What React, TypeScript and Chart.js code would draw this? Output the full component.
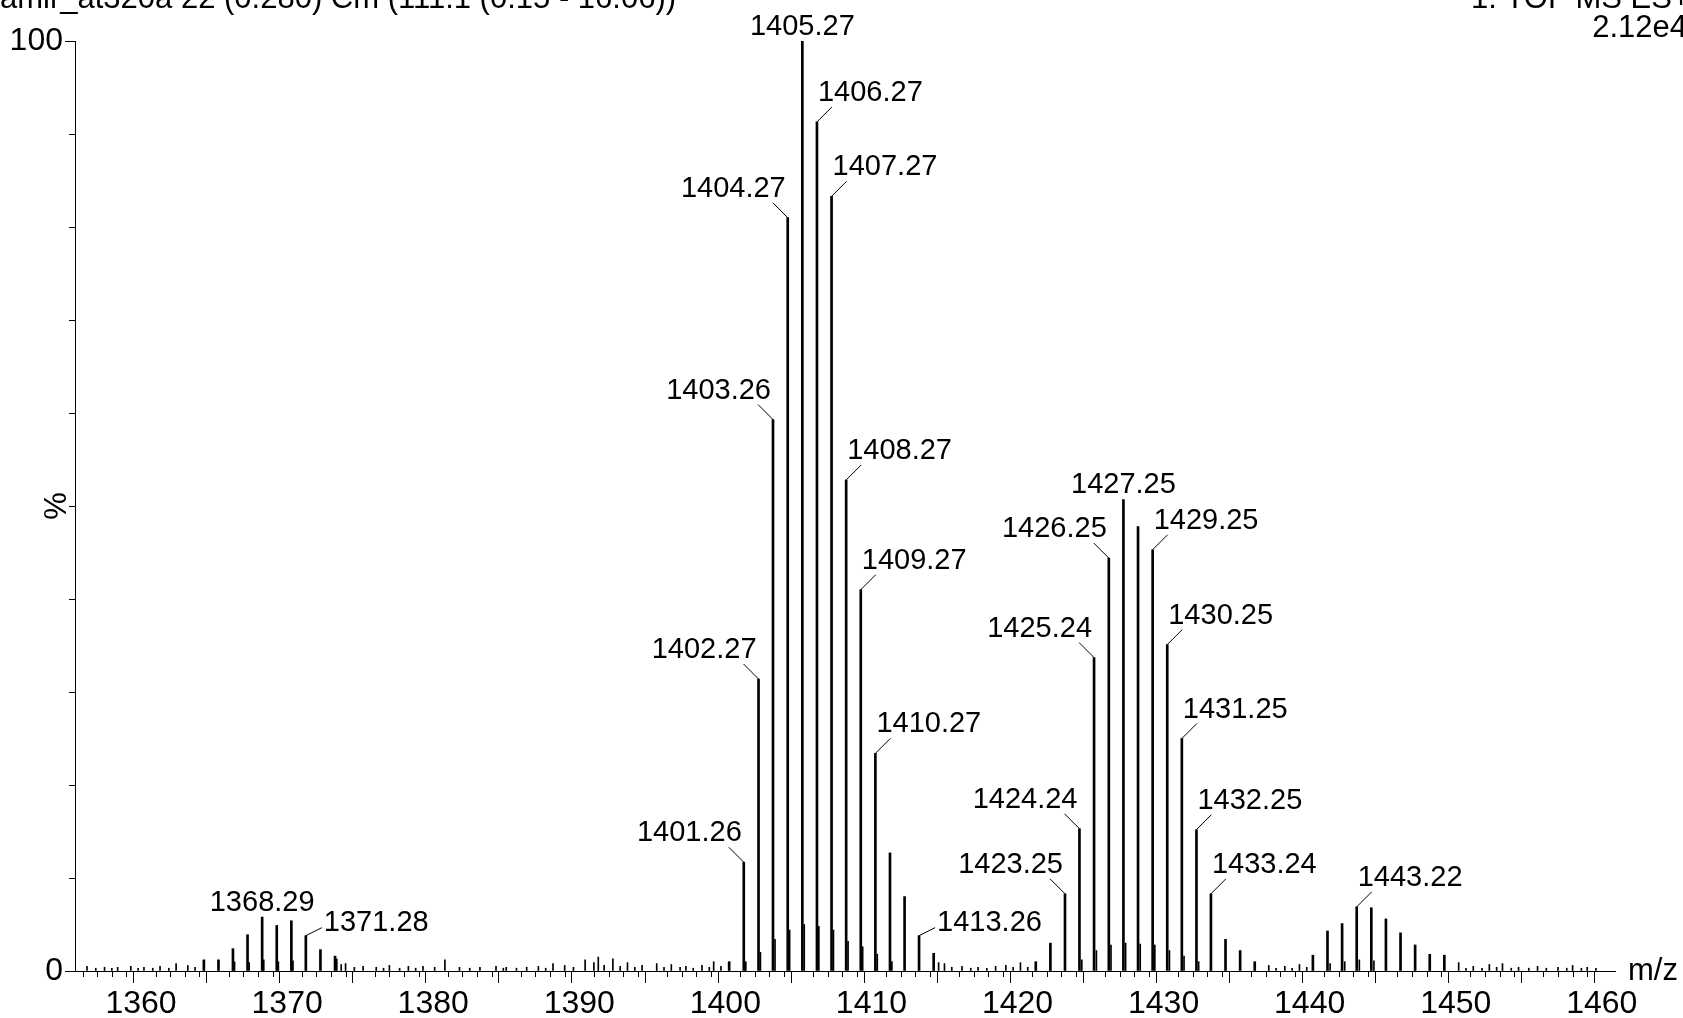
import React, { useEffect, useRef } from 'react';
import { Chart, registerables } from 'chart.js';

Chart.register(...registerables);

// ---- data ----
const peakMz = [
  1364.30, 1365.30, 1366.29, 1367.29, 1368.29, 1369.29, 1370.29, 1371.28, 1372.28, 1373.28,
  1400.26, 1401.26, 1402.27, 1403.26, 1404.27, 1405.27, 1406.27, 1407.27, 1408.27, 1409.27,
  1410.27, 1411.27, 1412.27, 1413.26, 1414.26,
  1421.25, 1422.25, 1423.25, 1424.24, 1425.24, 1426.25, 1427.25, 1428.25, 1429.25, 1430.25,
  1431.25, 1432.25, 1433.24, 1434.24, 1435.24, 1436.24,
  1440.22, 1441.22, 1442.22, 1443.22, 1444.22, 1445.22, 1446.22, 1447.22, 1448.22, 1449.22,
];
const peakPct = [
  1.2, 1.2, 2.4, 3.9, 5.8, 4.9, 5.4, 3.8, 2.3, 1.6,
  1.0, 11.7, 31.4, 59.3, 81.0, 100, 91.3, 83.3, 52.8, 41.0,
  23.4, 12.7, 8.0, 3.8, 1.9,
  1.0, 3.0, 8.3, 15.3, 33.7, 44.4, 50.7, 47.8, 45.3, 35.1,
  25.0, 15.2, 8.3, 3.4, 2.2, 1.0,
  1.7, 4.3, 5.1, 6.9, 6.8, 5.6, 4.1, 2.8, 1.8, 1.7,
];

// small shoulder / tail spikes just after the main isotope peaks
const tailMz = [
  1366.4, 1367.4, 1368.4, 1369.4, 1370.4, 1373.4,
  1401.4, 1402.4, 1403.4, 1404.4, 1405.4, 1406.4, 1407.4, 1408.4, 1409.4, 1410.4, 1411.4,
  1424.4, 1425.4, 1426.4, 1427.4, 1428.4, 1429.4, 1430.4, 1431.4, 1432.4,
  1441.4, 1442.4, 1443.4, 1444.4,
];
const tailPct = [
  1.0, 0.9, 1.2, 1.0, 1.1, 1.3,
  1.0, 2.0, 3.4, 4.4, 5.0, 4.8, 4.4, 3.2, 2.6, 1.8, 1.0,
  1.2, 2.2, 2.8, 3.0, 2.9, 2.8, 2.2, 1.6, 1.0,
  0.8, 1.0, 1.2, 1.1,
];

const noiseMz = [
  1356.3, 1356.9, 1357.5, 1358.0, 1358.4, 1359.3, 1359.8, 1360.2, 1360.8, 1361.3,
  1361.9, 1362.4, 1363.2, 1363.7, 1373.7, 1374.0, 1374.6, 1375.2, 1376.1, 1376.6,
  1377.0, 1377.7, 1378.3, 1378.8, 1379.3, 1380.1, 1380.8, 1381.8, 1382.5, 1383.2,
  1384.3, 1384.8, 1385.0, 1385.7, 1386.4, 1387.2, 1387.7, 1388.2, 1389.0, 1389.6,
  1390.4, 1391.0, 1391.3, 1391.7, 1392.3, 1392.8, 1393.3, 1393.8, 1394.3, 1395.3,
  1395.8, 1396.3, 1396.9, 1397.3, 1397.8, 1398.4, 1398.9, 1399.2, 1399.7, 1414.6,
  1415.0, 1415.5, 1416.2, 1416.8, 1417.3, 1417.9, 1418.5, 1419.2, 1419.7, 1420.2,
  1420.7, 1437.2, 1437.7, 1438.3, 1438.8, 1439.3, 1439.8, 1450.2, 1450.7, 1451.2,
  1451.8, 1452.3, 1452.8, 1453.2, 1453.8, 1454.3, 1455.0, 1455.6, 1456.2, 1457.0,
  1457.6, 1458.0, 1458.6, 1459.0, 1459.6,
];
const noisePct = [
  0.5, 0.3, 0.4, 0.3, 0.4, 0.5, 0.3, 0.4, 0.3, 0.5,
  0.3, 0.8, 0.6, 0.4, 0.7, 0.8, 0.4, 0.5, 0.4, 0.3,
  0.6, 0.3, 0.5, 0.3, 0.5, 0.4, 1.2, 0.4, 0.3, 0.4,
  0.5, 0.3, 0.4, 0.3, 0.4, 0.5, 0.3, 0.8, 0.6, 0.4,
  1.2, 0.9, 1.5, 0.6, 1.3, 0.5, 0.9, 0.4, 0.6, 0.8,
  0.4, 0.7, 0.4, 0.5, 0.3, 0.6, 0.4, 1.0, 0.5, 0.9,
  0.8, 0.4, 0.5, 0.3, 0.4, 0.3, 0.5, 0.6, 0.4, 0.9,
  0.4, 0.6, 0.3, 0.5, 0.3, 0.7, 0.4, 0.9, 0.3, 0.5,
  0.3, 0.7, 0.4, 0.8, 0.3, 0.4, 0.3, 0.5, 0.3, 0.4,
  0.3, 0.6, 0.3, 0.4, 0.3,
];

const labelMz = [
  1368.29, 1371.28, 1401.26, 1402.27, 1403.26, 1404.27, 1405.27, 1406.27, 1407.27, 1408.27,
  1409.27, 1410.27, 1413.26, 1423.25, 1424.24, 1425.24, 1426.25, 1427.25, 1429.25, 1430.25,
  1431.25, 1432.25, 1433.24, 1443.22,
];
const labelSide = [
  'C', 'R2', 'L', 'L', 'L', 'L', 'C', 'R', 'R', 'R',
  'R', 'R', 'R2', 'L', 'L', 'L', 'L', 'C', 'R', 'R',
  'R', 'R', 'R', 'R',
];

const xMin = 1355.98;
const xMax = 1460.4;
const xLabelValues = [1360, 1370, 1380, 1390, 1400, 1410, 1420, 1430, 1440, 1450, 1460];
const yLabelValues = [0, 100];
const headerLeft = 'amir_at320a 22 (0.280) Cm (111:1 (0.15 - 16.06))';
const headerRight1 = '1: TOF MS ES+';
const headerRight2 = '2.12e4';
const xTitle = 'm/z';
const yTitle = '%';

const FONT = '"Liberation Sans", Arial, Helvetica, sans-serif';

const annotatePlugin = {
  id: 'annotate',
  afterDraw(chart: any) {
    const ctx = chart.ctx;
    const xs = chart.scales.x;
    const ys = chart.scales.y;
    const area = chart.chartArea;
    ctx.save();
    ctx.strokeStyle = '#000';
    ctx.fillStyle = '#000';
    ctx.lineWidth = 1;
    // minor x ticks
    ctx.beginPath();
    for (let v = Math.ceil(xMin); v <= Math.floor(xMax); v++) {
      if (v % 5 === 0) continue;
      const px = Math.round(xs.getPixelForValue(v)) + 0.5;
      ctx.moveTo(px, area.bottom);
      ctx.lineTo(px, area.bottom + 6);
    }
    // minor y ticks
    for (let v = 10; v < 100; v += 10) {
      const py = Math.round(ys.getPixelForValue(v)) + 0.5;
      ctx.moveTo(area.left, py);
      ctx.lineTo(area.left - 6, py);
    }
    ctx.stroke();

    // peak labels
    const meta = chart.getDatasetMeta(0);
    ctx.font = `29px ${FONT}`;
    ctx.textBaseline = 'alphabetic';
    labelMz.forEach((mz, i) => {
      const idx = peakMz.indexOf(mz);
      if (idx < 0) return;
      const el = meta.data[idx];
      const x = el.x;
      const y = el.y;
      const text = mz.toFixed(2);
      const side = labelSide[i];
      ctx.beginPath();
      if (side === 'L') {
        ctx.moveTo(x, y);
        ctx.lineTo(x - 15, y - 15);
        ctx.stroke();
        ctx.textAlign = 'right';
        ctx.fillText(text, x - 2, y - 21);
      } else if (side === 'R') {
        ctx.moveTo(x, y);
        ctx.lineTo(x + 15, y - 15);
        ctx.stroke();
        ctx.textAlign = 'left';
        ctx.fillText(text, x + 1, y - 21);
      } else if (side === 'R2') {
        ctx.moveTo(x, y);
        ctx.lineTo(x + 16, y - 8);
        ctx.stroke();
        ctx.textAlign = 'left';
        ctx.fillText(text, x + 18, y - 5);
      } else {
        ctx.textAlign = 'center';
        ctx.fillText(text, x, y - 6);
      }
    });

    // m/z
    ctx.font = `31px ${FONT}`;
    ctx.textAlign = 'left';
    ctx.fillText(xTitle, area.right + 13, area.bottom + 9);

    // headers
    ctx.textAlign = 'left';
    ctx.fillText(headerLeft, 0, 8);
    ctx.textAlign = 'right';
    ctx.fillText(headerRight1, 1690, 8);
    ctx.fillText(headerRight2, 1687, 37);
    ctx.restore();
  },
};

const stick = (mz: number[], pct: number[], w: number) => ({
  data: mz.map((m, i) => ({ x: m, y: pct[i] })),
  backgroundColor: '#000',
  borderWidth: 0,
  barThickness: w,
  grouped: false,
});

export default function App() {
  const ref = useRef<HTMLCanvasElement | null>(null);
  useEffect(() => {
    if (!ref.current) return;
    const chart = new Chart(ref.current, {
      type: 'bar',
      data: {
        datasets: [
          stick(peakMz, peakPct, 2),
          stick(tailMz, tailPct, 1),
          stick(noiseMz, noisePct, 1),
        ] as any,
      },
      options: {
        animation: false,
        responsive: false,
        maintainAspectRatio: false,
        devicePixelRatio: 1,
        layout: { padding: { top: 41, right: 68, left: 0, bottom: 0 } },
        plugins: { legend: { display: false }, tooltip: { enabled: false }, title: { display: false } },
        scales: {
          x: {
            type: 'linear',
            min: xMin,
            max: xMax,
            position: 'bottom',
            afterFit: (s: any) => { s.height = 47; },
            ticks: {
              stepSize: 1,
              autoSkip: false,
              includeBounds: false,
              maxTicksLimit: 500,
              maxRotation: 0,
              minRotation: 0,
              padding: 2,
              color: '#000',
              font: { size: 32, family: FONT },
              callback: (v: any) => (xLabelValues.includes(Number(v)) ? String(v) : ''),
            },
            grid: {
              drawOnChartArea: false,
              drawTicks: true,
              tickLength: 12,
              tickColor: (c: any) => (c.tick && c.tick.value % 5 === 0 ? '#000' : 'rgba(0,0,0,0)'),
            },
            border: { display: true, color: '#000', width: 1 },
          },
          y: {
            type: 'linear',
            min: 0,
            max: 100,
            afterFit: (s: any) => { s.width = 75; },
            ticks: {
              stepSize: 10,
              autoSkip: false,
              padding: 2,
              color: '#000',
              font: { size: 32, family: FONT },
              callback: (v: any) => (yLabelValues.includes(Number(v)) ? String(v) : ''),
            },
            grid: {
              drawOnChartArea: false,
              drawTicks: true,
              tickLength: 10,
              tickColor: (c: any) => (c.tick && yLabelValues.includes(c.tick.value) ? '#000' : 'rgba(0,0,0,0)'),
            },
            border: { display: true, color: '#000', width: 1 },
            title: {
              display: true,
              text: yTitle,
              color: '#000',
              font: { size: 31, family: FONT },
              padding: { top: 39, bottom: 0 },
            },
          },
        },
      } as any,
      plugins: [annotatePlugin],
    });
    return () => chart.destroy();
  }, []);
  return (
    <div style={{ position: 'fixed', left: 0, top: 0, width: 1683, height: 1018, background: '#fff' }}>
      <canvas ref={ref} width={1683} height={1018} style={{ display: 'block', width: 1683, height: 1018 }} />
    </div>
  );
}
